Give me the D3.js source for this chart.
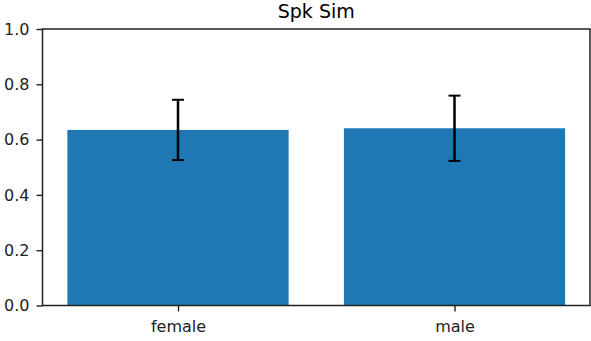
<!DOCTYPE html>
<html>
<head>
<meta charset="utf-8">
<script src="https://cdn.jsdelivr.net/npm/d3@7"></script>
<style>
  body { margin: 0; background: #fff; }
  text { font-family: "DejaVu Sans", sans-serif; }
</style>
</head>
<body>
<svg id="chart" width="591" height="341"></svg>
<script>
const categories = ["female", "male"];
const means = [0.635, 0.641];
const errors = [0.109, 0.118];
const y_ticks = [0.0, 0.2, 0.4, 0.6, 0.8, 1.0];

const margin = { top: 29, right: 1, bottom: 35.5, left: 42.5 };
const width = 591, height = 341;

const svg = d3.select("#chart");

// matplotlib style categorical axis: bar width 0.8, 5% margins
const x = d3.scaleLinear()
    .domain([-0.49, 1.49])
    .range([margin.left, width - margin.right]);
const y = d3.scaleLinear()
    .domain([0, 1])
    .range([height - margin.bottom, margin.top]);

const bar_w = 0.8;

svg.selectAll("rect.bar")
    .data(means)
    .join("rect")
    .attr("class", "bar")
    .attr("x", (d, i) => x(i - bar_w / 2))
    .attr("width", (d, i) => x(i + bar_w / 2) - x(i - bar_w / 2))
    .attr("y", d => y(d))
    .attr("height", d => y(0) - y(d))
    .attr("fill", "#1f77b4");

// Error bars
const err = svg.append("g");
means.forEach((m, i) => {
    let cx = x(i);
    err.append("line")
        .attr("x1", cx).attr("x2", cx)
        .attr("y1", y(m - errors[i])).attr("y2", y(m + errors[i]))
        .attr("stroke", "#000").attr("stroke-width", 2.5);
    [m - errors[i], m + errors[i]].forEach(v => {
        err.append("line")
            .attr("x1", cx - 6).attr("x2", cx + 6)
            .attr("y1", y(v)).attr("y2", y(v))
            .attr("stroke", "#000").attr("stroke-width", 2);
    });
});

// Axes
const y_axis = d3.axisLeft(y).tickValues(y_ticks).tickFormat(d3.format(".1f")).tickSize(6).tickPadding(7);
const gy = svg.append("g")
    .attr("transform", `translate(${margin.left},0)`)
    .call(y_axis);
gy.select(".domain").remove();

const x_axis = d3.axisBottom(x).tickValues([0, 1]).tickFormat((d) => categories[d]).tickSize(6).tickPadding(9);
const gx = svg.append("g")
    .attr("transform", `translate(0,${height - margin.bottom})`)
    .call(x_axis);
gx.select(".domain").remove();

[gx, gy].forEach(g => {
    g.selectAll("text").attr("font-size", 16).attr("fill", "#222").attr("font-family", "DejaVu Sans");
    g.selectAll("line").attr("stroke", "#222").attr("stroke-width", 1.4);
});

// Frame
svg.append("rect")
    .attr("x", margin.left).attr("y", margin.top)
    .attr("width", width - margin.right - margin.left)
    .attr("height", height - margin.bottom - margin.top)
    .attr("fill", "none")
    .attr("stroke", "#222")
    .attr("stroke-width", 1.5);

// Title
svg.append("text")
    .attr("x", (margin.left + width - margin.right) / 2)
    .attr("y", 18)
    .attr("text-anchor", "middle")
    .attr("font-size", 19)
    .attr("fill", "#000")
    .text("Spk Sim");
</script>
</body>
</html>
